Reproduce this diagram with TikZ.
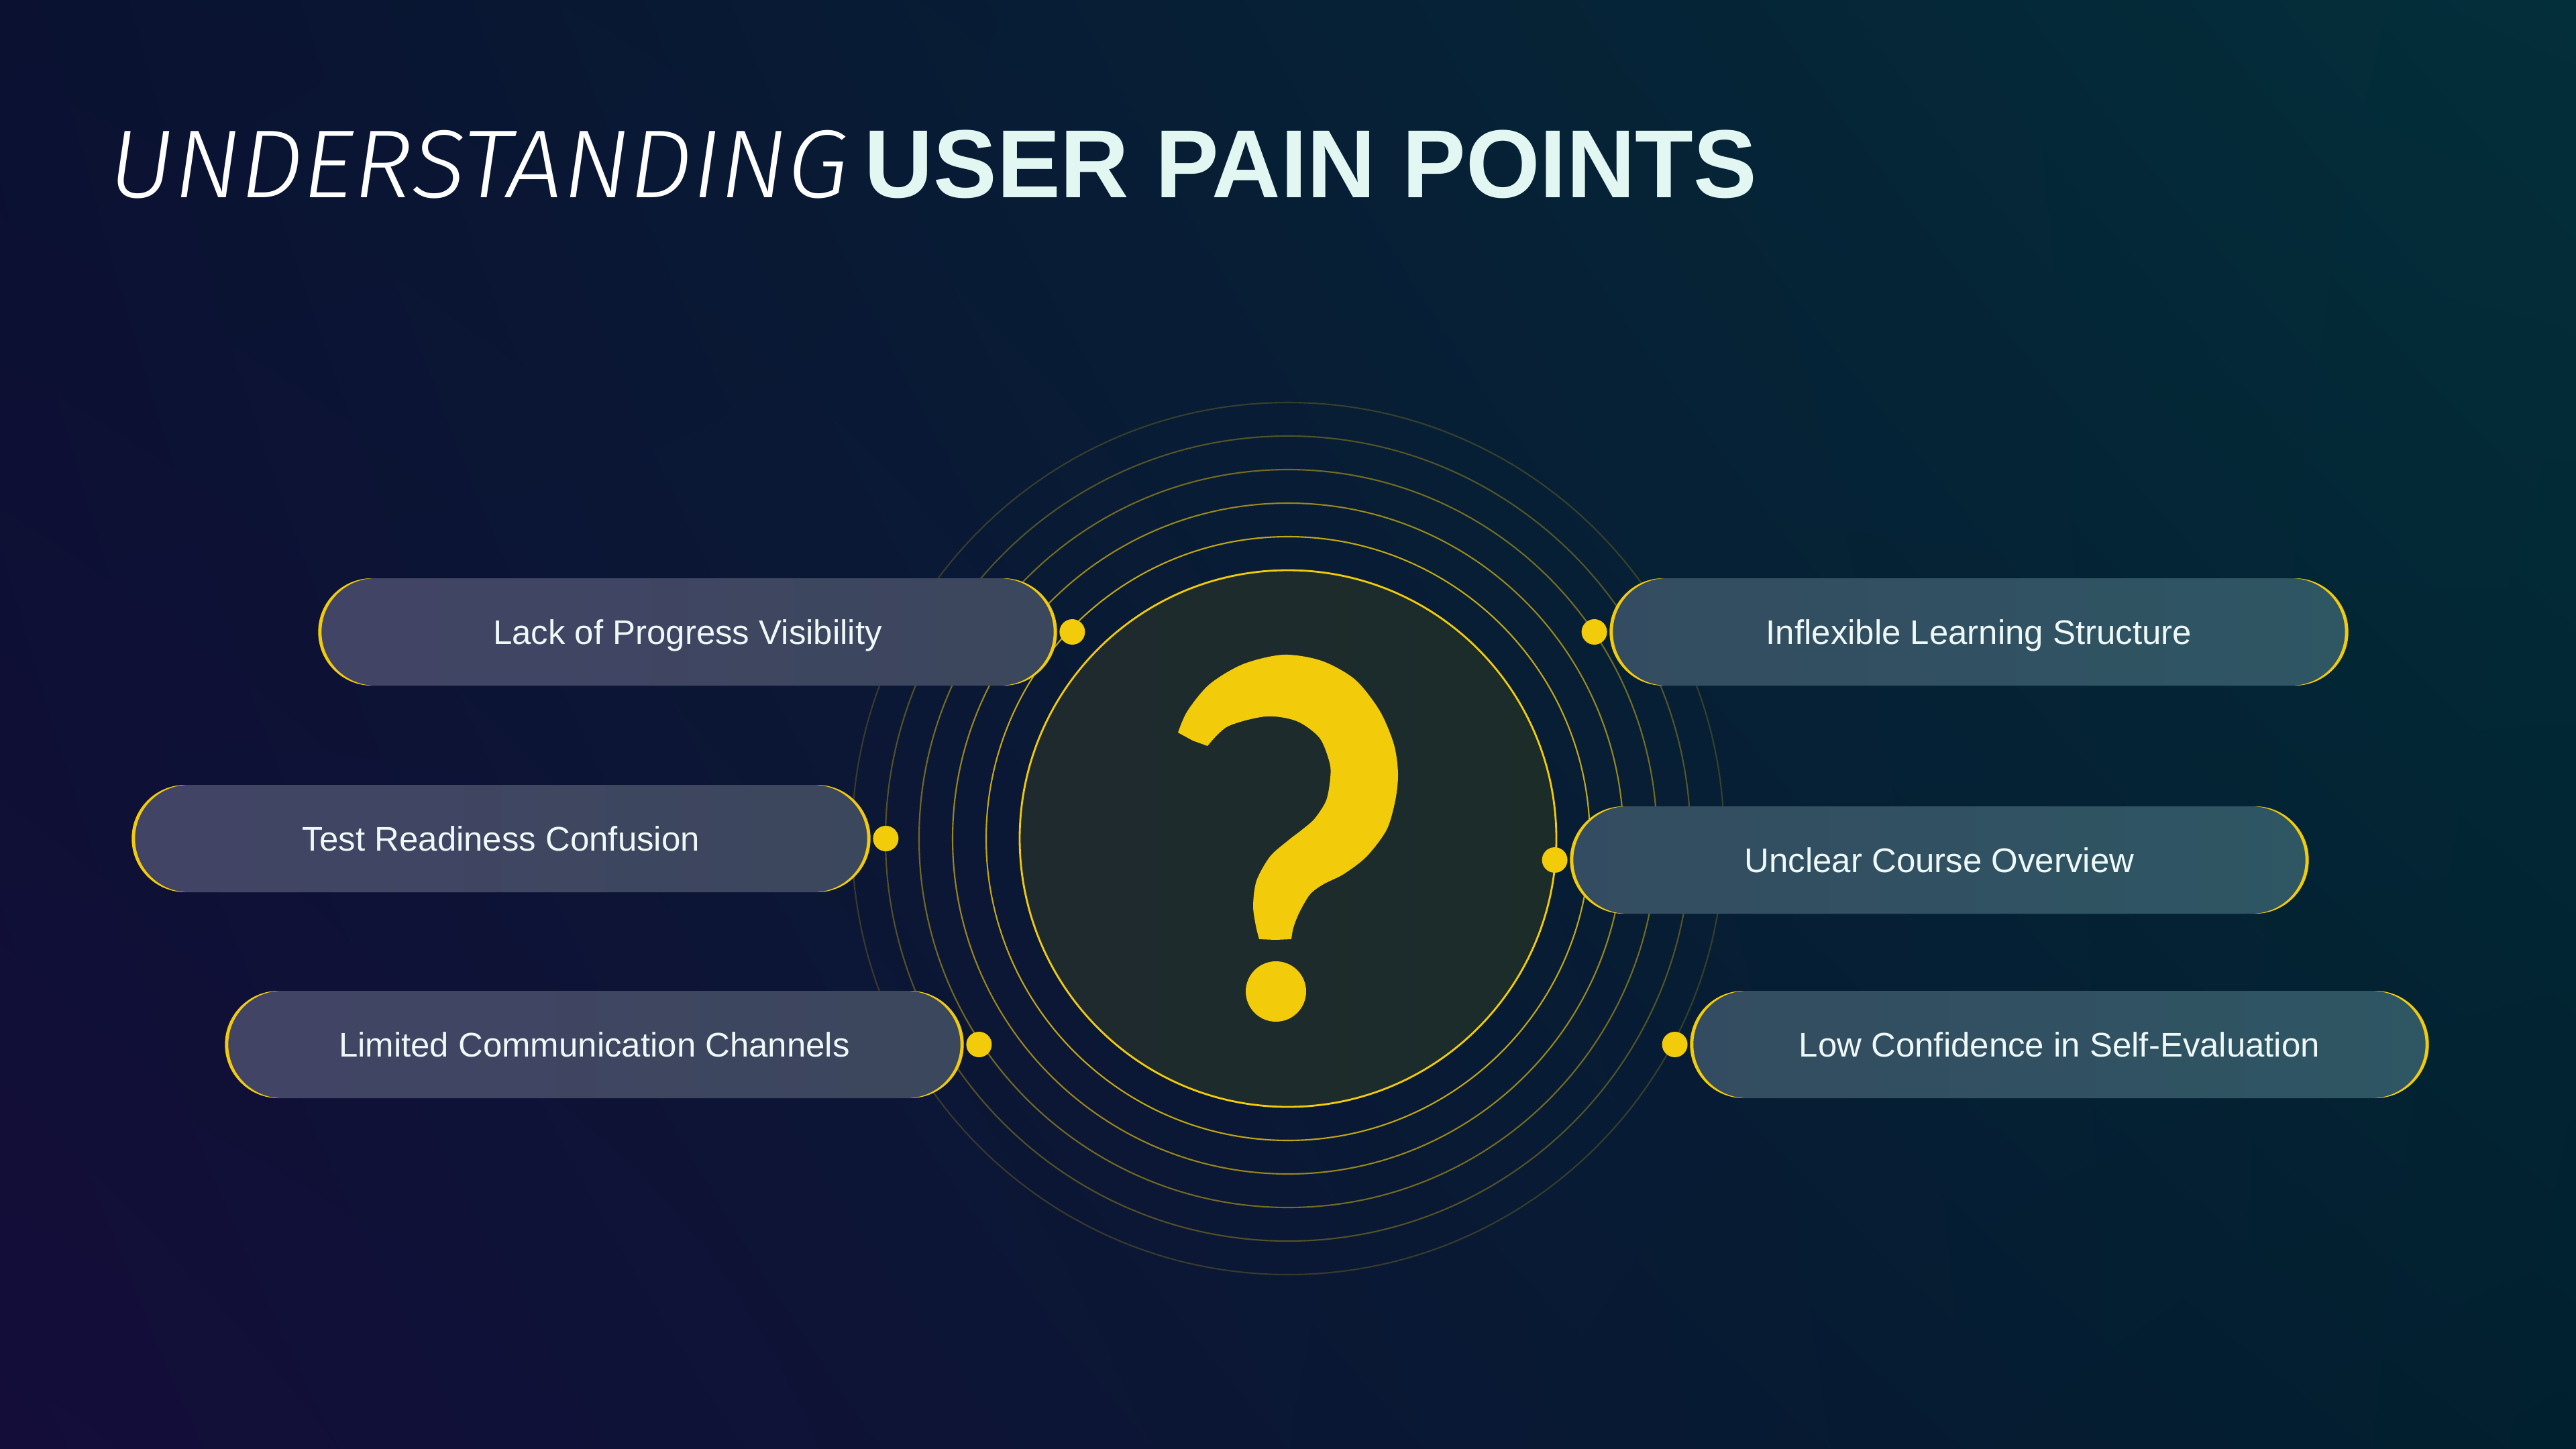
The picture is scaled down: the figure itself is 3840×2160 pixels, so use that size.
\documentclass[tikz,border=0pt]{standalone}
\usepackage{fontspec}
\setmainfont{Liberation Sans}
\newfontfamily\thinfont{Fira Sans Light}[ItalicFont={Fira Sans Light Italic}]
\usetikzlibrary{positioning,calc,shadings}

\definecolor{bgUL}{HTML}{0A1131}
\definecolor{bgUR}{HTML}{032F3A}
\definecolor{bgLL}{HTML}{140D3A}
\definecolor{bgLR}{HTML}{01202F}
\definecolor{lpA}{HTML}{424466}
\definecolor{lpB}{HTML}{3B475C}
\definecolor{rpA}{HTML}{344C61}
\definecolor{rpB}{HTML}{2E5663}
\definecolor{hubA}{HTML}{1F2A2F}
\definecolor{hubB}{HTML}{1B2C29}
\definecolor{qyellow}{HTML}{F2CB0A}
\definecolor{txt}{HTML}{EEF8F6}
\definecolor{mint}{HTML}{E2F7F2}

\tikzset{
  pill/.style={rounded corners=0.8cm, minimum width=11cm, minimum height=1.6cm,
    inner sep=0pt, text height=10.4pt, text depth=0pt, text=txt,
    font=\fontsize{14.5}{17}\selectfont},
  leftpill/.style={pill, left color=lpA, right color=lpB},
  rightpill/.style={pill, left color=rpA, right color=rpB},
  dot/.style={circle, fill=qyellow, minimum size=0.38cm, inner sep=0pt},
  ring/.style={draw=qyellow, line width=0.6pt},
}

\begin{document}
\begin{tikzpicture}[x=0.1mm, y=-0.1mm]
  \useasboundingbox (0,0) rectangle (3840,2160);
  \shade[shading=bilinear interpolation, upper left=bgUL, upper right=bgUR,
    lower left=bgLL, lower right=bgLR] (0,0) rectangle (3840,2160);

  % title
  \node[anchor=base west, inner sep=0pt, text=white] (title) at (162,294)
    {\fontsize{41}{48}\selectfont\scalebox{1.03}[1]{\thinfont\itshape UNDERSTANDING}\hspace{0.17em}\scalebox{0.985}[1]{\bfseries\color{mint}USER PAIN POINTS}};

  % centre
  \node[circle, minimum size=8cm, inner sep=0pt, left color=hubA, right color=hubB,
    draw=qyellow, line width=0.8pt] (hub) at (1920,1250) {};
  \foreach \r/\o in {450/0.8, 500/0.62, 550/0.46, 600/0.32, 650/0.2}
    \draw[ring, draw opacity=\o] (hub.center) circle (\r);

  % pain points
  \node[leftpill] (lpv) at (1025,942) {Lack of Progress Visibility};
  \node[leftpill] (trc) at (747,1250) {Test Readiness Confusion};
  \node[leftpill] (lcc) at (886,1557) {Limited Communication Channels};
  \node[rightpill] (ils) at (2950,942) {Inflexible Learning Structure};
  \node[rightpill] (uco) at (2891,1282) {Unclear Course Overview};
  \node[rightpill] (lcs) at (3070,1557) {Low Confidence in Self-Evaluation};

  \foreach \p in {lpv,trc,lcc,ils,uco,lcs}{
    \begin{scope}
      \clip ($(\p.east)+(-80,-85)$) rectangle ($(\p.east)+(10,85)$);
      \fill[qyellow, even odd rule] ($(\p.east)+(-80,0)$) circle (80) ($(\p.east)+(-85,0)$) circle (80);
    \end{scope}
    \begin{scope}
      \clip ($(\p.west)+(80,-85)$) rectangle ($(\p.west)+(-10,85)$);
      \fill[qyellow, even odd rule] ($(\p.west)+(80,0)$) circle (80) ($(\p.west)+(85,0)$) circle (80);
    \end{scope}
  }

  \node[dot, right=0.03cm of lpv] (lpvdot) {};
  \node[dot, right=0.03cm of trc] (trcdot) {};
  \node[dot, right=0.03cm of lcc] (lccdot) {};
  \node[dot, left=0.03cm of ils] (ilsdot) {};
  \node[dot, left=0.03cm of uco] (ucodot) {};
  \node[dot, left=0.03cm of lcs] (lcsdot) {};

  % question mark
  \fill[qyellow] (1756,1092) -- plot[smooth, tension=0.5] coordinates {(1756,1092) (1770,1060)
      (1803,1020) (1853,990) (1913,976) (1970,985) (2020,1013) (2057,1060) (2078,1110) (2084,1153)
      (2080,1193) (2067,1237) (2037,1277) (2003,1303) (1973,1318) (1953,1333) (1937,1360)
      (1928,1383) (1925,1400)}
    -- (1901,1401) -- plot[smooth, tension=0.5] coordinates {(1877,1400) (1872,1380) (1868,1350)
      (1873,1313) (1893,1277) (1920,1253) (1942,1236) (1960,1220) (1977,1193) (1983,1160)
      (1982,1137) (1967,1100) (1933,1075) (1887,1068) (1830,1083) (1800,1112)}
    -- (1778,1104) -- cycle;
  \fill[qyellow] (1902,1478) circle (45);
\end{tikzpicture}
\end{document}
